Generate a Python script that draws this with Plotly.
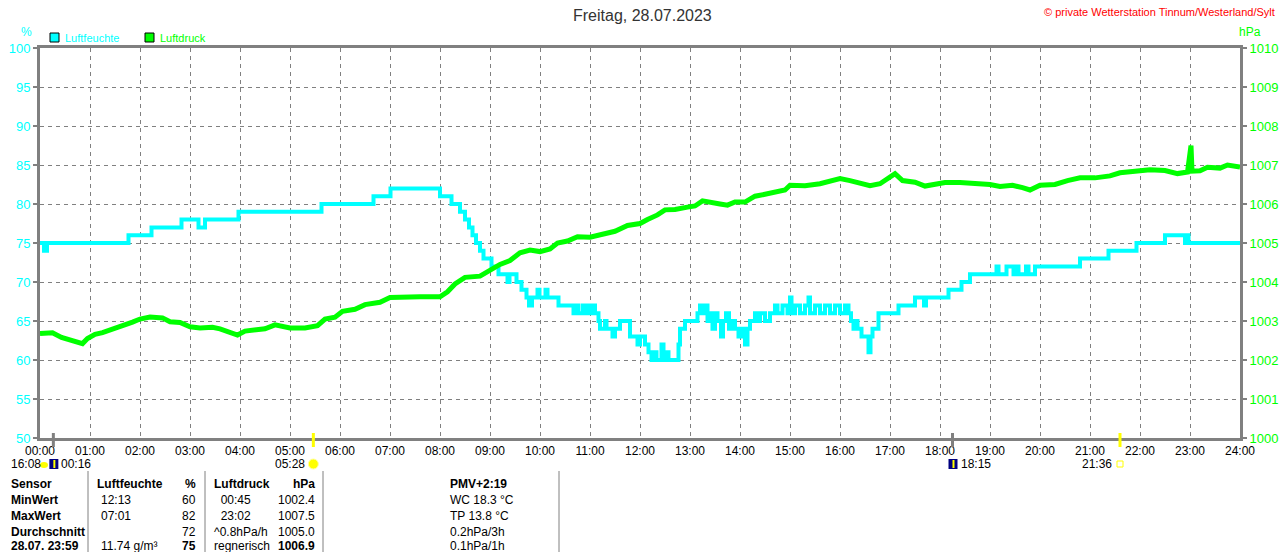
import plotly.graph_objects as go

# Luftfeuchte (%), Stufenwerte: Zeitpunkt in Stunden -> neuer Wert
hum_hours = [0.00, 0.08, 0.14, 1.77, 2.23, 2.83, 3.17, 3.30, 3.97, 5.63, 6.67, 7.01,
             8.00, 8.23, 8.40, 8.50, 8.58, 8.65, 8.72, 8.80, 8.87, 9.03, 9.17, 9.35, 9.39,
             9.53, 9.63, 9.73, 9.78, 9.84, 9.95, 9.99, 10.11, 10.15, 10.37, 10.67, 10.72,
             10.76, 10.85, 10.90, 10.95, 11.00, 11.05, 11.10, 11.17, 11.20, 11.30, 11.33,
             11.45, 11.50, 11.60, 11.80, 11.95, 12.00, 12.10, 12.17, 12.23, 12.30, 12.33,
             12.43, 12.47, 12.52, 12.57, 12.77, 12.80, 12.90, 13.15, 13.20, 13.25, 13.30,
             13.35, 13.40, 13.45, 13.50, 13.55, 13.62, 13.66, 13.72, 13.78, 13.85, 13.90,
             13.97, 14.02, 14.10, 14.15, 14.20, 14.30, 14.35, 14.40, 14.50, 14.60, 14.70,
             14.75, 14.85, 14.95, 15.00, 15.03, 15.10, 15.20, 15.30, 15.37, 15.40, 15.50,
             15.60, 15.70, 15.80, 15.90, 16.00, 16.10, 16.17, 16.22, 16.27, 16.30, 16.35,
             16.43, 16.57, 16.61, 16.65, 16.77, 17.17, 17.50, 17.68, 17.72, 18.17, 18.43,
             18.60, 19.13, 19.17, 19.33, 19.47, 19.53, 19.57, 19.72, 19.77, 19.90, 20.80,
             21.37, 21.93, 22.50, 22.90, 22.93, 22.97, 24.00]
hum_values = [75, 74, 75, 76, 77, 78, 77, 78, 79, 80, 81, 82,
              81, 80, 79, 78, 77, 76, 75, 74, 73, 72, 71, 70, 71,
              70, 69, 68, 67, 68, 69, 68, 69, 68, 67, 66, 67,
              66, 67, 66, 67, 66, 67, 66, 65, 64, 65, 64,
              63, 64, 65, 63, 62, 63, 62, 61, 60, 61, 60,
              62, 60, 61, 60, 62, 64, 65, 66, 67, 66, 67,
              65, 66, 64, 66, 65, 63, 65, 66, 64, 65, 64,
              63, 64, 62, 64, 65, 66, 65, 66, 65, 66, 67,
              66, 67, 66, 68, 66, 67, 66, 67, 68, 66, 67,
              66, 67, 66, 67, 66, 67, 66, 65, 64, 65, 64,
              63, 61, 63, 64, 66, 67, 68, 67, 68, 69, 70,
              71, 72, 71, 72, 71, 72, 71, 72, 71, 72, 73,
              74, 75, 76, 75, 76, 75, 75]

# Luftdruck (hPa)
press_hours = [0.00, 0.25, 0.43, 0.60, 0.75, 0.85, 0.95, 1.10, 1.25, 1.40, 1.55, 1.70,
               1.85, 2.00, 2.20, 2.45, 2.60, 2.80, 3.00, 3.20, 3.45, 3.60, 3.80, 3.95,
               4.10, 4.30, 4.50, 4.70, 4.85, 5.00, 5.30, 5.55, 5.70, 5.90, 6.05, 6.30,
               6.50, 6.80, 7.00, 7.30, 7.60, 8.00, 8.15, 8.30, 8.50, 8.80, 9.00, 9.20,
               9.40, 9.60, 9.80, 10.00, 10.20, 10.35, 10.55, 10.75, 11.00, 11.25, 11.50,
               11.75, 12.00, 12.15, 12.35, 12.50, 12.70, 12.95, 13.10, 13.25, 13.45, 13.60,
               13.75, 13.90, 14.10, 14.30, 14.50, 14.70, 14.90, 15.00, 15.30, 15.60, 15.80,
               16.00, 16.20, 16.40, 16.60, 16.80, 17.00, 17.10, 17.25, 17.50, 17.70, 17.90,
               18.10, 18.40, 18.70, 19.00, 19.20, 19.45, 19.65, 19.80, 20.00, 20.30, 20.55,
               20.80, 21.10, 21.40, 21.60, 21.90, 22.20, 22.50, 22.75, 22.95, 23.02, 23.04,
               23.20, 23.35, 23.60, 23.75, 24.00]
press_values = [1002.68, 1002.70, 1002.58, 1002.52, 1002.44, 1002.42, 1002.55, 1002.66,
                1002.70, 1002.76, 1002.85, 1002.88, 1002.97, 1003.05, 1003.10, 1003.08,
                1002.98, 1002.96, 1002.85, 1002.82, 1002.84, 1002.80, 1002.70, 1002.64,
                1002.74, 1002.78, 1002.80, 1002.90, 1002.86, 1002.82, 1002.82, 1002.88,
                1003.05, 1003.10, 1003.25, 1003.30, 1003.42, 1003.48, 1003.60, 1003.62,
                1003.62, 1003.62, 1003.75, 1003.95, 1004.12, 1004.15, 1004.30, 1004.45,
                1004.55, 1004.75, 1004.82, 1004.78, 1004.85, 1005.00, 1005.05, 1005.16,
                1005.15, 1005.22, 1005.30, 1005.45, 1005.50, 1005.60, 1005.72, 1005.85,
                1005.86, 1005.92, 1005.95, 1006.08, 1006.05, 1006.00, 1005.97, 1006.05,
                1006.05, 1006.20, 1006.25, 1006.32, 1006.36, 1006.48, 1006.47, 1006.52,
                1006.60, 1006.65, 1006.60, 1006.52, 1006.47, 1006.52, 1006.72, 1006.78,
                1006.60, 1006.56, 1006.46, 1006.50, 1006.55, 1006.55, 1006.53, 1006.50,
                1006.45, 1006.48, 1006.42, 1006.36, 1006.48, 1006.50, 1006.60, 1006.67,
                1006.67, 1006.72, 1006.80, 1006.84, 1006.88, 1006.86, 1006.78, 1006.82,
                1007.50, 1006.84, 1006.85, 1006.94, 1006.92, 1007.00, 1006.95]

hour_ticks = list(range(25))
hour_labels = ["00:00", "01:00", "02:00", "03:00", "04:00", "05:00", "06:00", "07:00",
               "08:00", "09:00", "10:00", "11:00", "12:00", "13:00", "14:00", "15:00",
               "16:00", "17:00", "18:00", "19:00", "20:00", "21:00", "22:00", "23:00",
               "24:00"]

# Sonne / Mond Ereignisse
event_hours = [0.267, 5.467, 18.25, 21.6]
event_labels = ["00:16", "05:28", "18:15", "21:36"]
event_kind = ["moon", "sun", "moon", "sun"]

# Tabelle unten
col_sensor = ["Sensor", "MinWert", "MaxWert", "Durchschnitt", "28.07. 23:59"]
col_hum_time = ["", "12:13", "07:01", "", "11.74 g/m³"]
col_hum_val = ["%", "60", "82", "72", "75"]
col_press_time = ["", "  00:45", "  23:02", "^0.8hPa/h", "regnerisch"]
col_press_val = ["hPa", "1002.4", "1007.5", "1005.0", "1006.9"]
col_extra = ["PMV+2:19", "WC 18.3 °C", "TP 13.8 °C", "0.2hPa/3h", "0.1hPa/1h"]

W, H = 1280, 552
L, R, T, B = 40, 40, 48, 114
FONT = "Liberation Sans"
GRAY = "#808080"
CYAN = "#00FFFF"
GREEN = "#00FF00"


def xp(px):
    return (px - L) / (W - L - R)


def yp(py):
    return (H - B - py) / (H - T - B)


def hx(h):
    return L + h * (W - L - R) / 24.0


annots = []


def txt(s, x, y, color="black", size=12, anchor="left", bold=False):
    if bold:
        s = "<b>" + s + "</b>"
    annots.append(dict(text=s, x=xp(x), y=yp(y), xref="paper", yref="paper",
                       xanchor=anchor, yanchor="middle", showarrow=False,
                       font=dict(family=FONT, size=size, color=color)))


fig = go.Figure()
fig.add_trace(go.Scatter(x=hum_hours, y=hum_values, mode="lines", name="Luftfeuchte",
                         line=dict(color=CYAN, width=4, shape="hv")))
fig.add_trace(go.Scatter(x=press_hours, y=press_values, yaxis="y2", mode="lines",
                         name="Luftdruck", line=dict(color=GREEN, width=5)))

shapes = []
# legende
shapes.append(dict(type="rect", xref="paper", yref="paper", x0=xp(50), x1=xp(59),
                   y0=yp(42), y1=yp(33), fillcolor=CYAN, line=dict(color="black", width=1)))
shapes.append(dict(type="rect", xref="paper", yref="paper", x0=xp(145), x1=xp(154),
                   y0=yp(42), y1=yp(33), fillcolor=GREEN, line=dict(color="black", width=1)))
txt("Luftfeuchte", 63, 38, CYAN, 11)
txt("Luftdruck", 158, 38, GREEN, 11)
txt("%", 26, 32, CYAN, 12, "center")
txt("hPa", 1250, 32, GREEN, 12, "center")
txt("Freitag, 28.07.2023", 643, 15, "#333333", 16, "center")
txt("© private Wetterstation Tinnum/Westerland/Sylt", 1277, 12, "#FF0000", 11, "right")

# Sonnen-/Mondzeiten
txt("16:08", 9, 464, "black", 12)
shapes.append(dict(type="circle", xref="paper", yref="paper", x0=xp(40), x1=xp(48),
                   y0=yp(468), y1=yp(462), fillcolor="#FFFF00", line=dict(width=0)))
for t, lab, kind in zip(event_hours, event_labels, event_kind):
    x = hx(t)
    col = "#FFFF00" if kind == "sun" else GRAY
    shapes.append(dict(type="line", xref="paper", yref="paper", x0=xp(x), x1=xp(x),
                       y0=yp(447), y1=yp(433), line=dict(color=col, width=3)))
    if kind == "moon":
        shapes.append(dict(type="rect", xref="paper", yref="paper", x0=xp(x - 4), x1=xp(x + 5),
                           y0=yp(469), y1=yp(459), fillcolor="#000080", line=dict(width=0)))
        shapes.append(dict(type="line", xref="paper", yref="paper", x0=xp(x + 1), x1=xp(x + 1),
                           y0=yp(468), y1=yp(460), line=dict(color="#FFFF00", width=2)))
        txt(lab, x + 6, 464, "black", 12)
    else:
        if t < 12:
            shapes.append(dict(type="circle", xref="paper", yref="paper", x0=xp(x - 5), x1=xp(x + 5),
                               y0=yp(469), y1=yp(459), fillcolor="#FFFF00",
                               line=dict(color="#FFFFA0", width=1)))
        else:
            shapes.append(dict(type="rect", xref="paper", yref="paper", x0=xp(x - 3), x1=xp(x + 3),
                               y0=yp(467), y1=yp(461), fillcolor="white",
                               line=dict(color="#FFFF00", width=1)))
        txt(lab, x - 6, 464, "black", 12, "right")

# Tabelle
for sx in [88, 205, 323, 559]:
    shapes.append(dict(type="line", xref="paper", yref="paper", x0=xp(sx), x1=xp(sx),
                       y0=yp(552), y1=yp(471), line=dict(color=GRAY, width=1)))
row_y = [484, 500, 516, 532, 545.5]
for i, y in enumerate(row_y):
    head = i == 0
    last = i == 4
    txt(col_sensor[i], 9, y, bold=True)
    txt("Luftfeuchte" if head else col_hum_time[i], 95 if head else 99, y, bold=head)
    txt(col_hum_val[i], 198, y, anchor="right", bold=head or last)
    txt("Luftdruck" if head else col_press_time[i], 212, y, bold=head)
    txt(col_press_val[i], 317, y, anchor="right", bold=head or last)
    txt(col_extra[i], 448, y, bold=head)

fig.update_layout(
    width=W, height=H, autosize=False,
    margin=dict(l=L, r=R, t=T, b=B),
    paper_bgcolor="white", plot_bgcolor="white",
    showlegend=False,
    font=dict(family=FONT, size=12),
    xaxis=dict(range=[0, 24], tickvals=hour_ticks, ticktext=hour_labels, automargin=False,
               showgrid=True, gridcolor=GRAY, gridwidth=1, griddash="4px,4px",
               showline=True, mirror=True, linecolor=GRAY, linewidth=3,
               ticks="", zeroline=False, tickfont=dict(color="black", size=12)),
    yaxis=dict(range=[50, 100], tick0=50, dtick=5, automargin=False,
               showgrid=True, gridcolor=GRAY, gridwidth=1, griddash="4px,4px",
               showline=True, linecolor=GRAY, linewidth=3,
               ticks="outside", ticklen=4, tickwidth=2, tickcolor=GRAY,
               zeroline=False, tickfont=dict(color=CYAN, size=13)),
    yaxis2=dict(range=[1000, 1010], tick0=1000, dtick=1, overlaying="y", side="right",
                automargin=False,
                showgrid=False, showline=True, linecolor=GRAY, linewidth=3,
                ticks="outside", ticklen=4, tickwidth=2, tickcolor=GRAY,
                zeroline=False, tickfont=dict(color=GREEN, size=13)),
    shapes=shapes,
    annotations=annots,
)

# body-Rand weg, damit das Bild genau 1280x552 fuellt
fig.write_html("out.html",
               config={"displayModeBar": False, "responsive": False},
               post_script="document.documentElement.style.overflow='hidden';"
                           "document.body.style.margin='0';document.body.style.overflow='hidden';")
